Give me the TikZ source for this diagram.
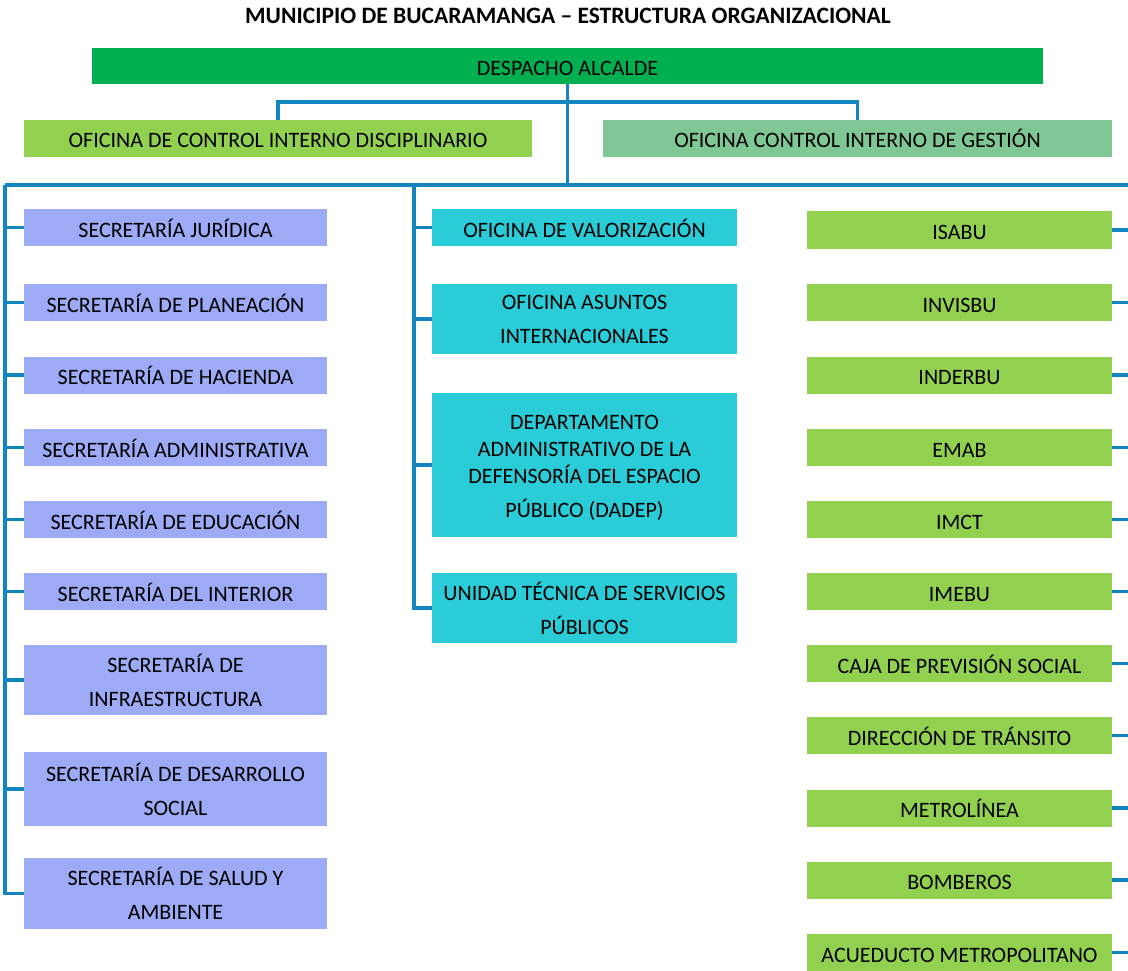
\documentclass[tikz,border=0pt]{standalone}
\usepackage{fontspec}
\setmainfont{Carlito}
\definecolor{despacho}{HTML}{00B050}
\definecolor{ofleft}{HTML}{92D050}
\definecolor{ofright}{HTML}{7FC794}
\definecolor{seccol}{HTML}{9DAAF5}
\definecolor{cyancol}{HTML}{29CCD7}
\definecolor{entcol}{HTML}{92D050}
\definecolor{linecol}{HTML}{1284BF}
\tikzset{
  box/.style={draw=none, inner sep=0pt, align=center, text=black,
    font=\fontsize{22}{34}\selectfont},
  oneline/.style={text height=19pt, text depth=0pt},
  secbox/.style={box, fill=seccol, minimum width=303pt},
  midbox/.style={box, fill=cyancol, minimum width=305pt},
  entbox/.style={box, oneline, fill=entcol, minimum width=305pt, minimum height=37pt},
  conn/.style={draw=linecol, line width=3.4pt}
}
\begin{document}
\begin{tikzpicture}[x=1pt,y=-1pt]
\useasboundingbox (0,0) rectangle (1128,971);
\node[font=\fontsize{23.5}{28}\selectfont\bfseries] (title) at (568,15.5) {MUNICIPIO DE BUCARAMANGA – ESTRUCTURA ORGANIZACIONAL};

\node[box, oneline, fill=despacho, minimum width=951pt, minimum height=36pt] (desp) at (567.5,66) {DESPACHO ALCALDE};
\node[box, oneline, fill=ofleft, minimum width=508pt, minimum height=37pt] (ol) at (278,138.5) {OFICINA DE CONTROL INTERNO DISCIPLINARIO};
\node[box, oneline, fill=ofright, minimum width=509pt, minimum height=37pt] (or) at (857.5,138.5) {OFICINA CONTROL INTERNO DE GESTIÓN};

% left column
\node[secbox, oneline, minimum height=37pt] (s1) at (175.5,227.5) {SECRETARÍA JURÍDICA};
\node[secbox, oneline, minimum height=37pt] (s2) at (175.5,302.5) {SECRETARÍA DE PLANEACIÓN};
\node[secbox, oneline, minimum height=37pt] (s3) at (175.5,375) {SECRETARÍA DE HACIENDA};
\node[secbox, oneline, minimum height=37pt] (s4) at (175.5,447.5) {SECRETARÍA ADMINISTRATIVA};
\node[secbox, oneline, minimum height=37pt] (s5) at (175.5,519.5) {SECRETARÍA DE EDUCACIÓN};
\node[secbox, oneline, minimum height=37pt] (s6) at (175.5,591.5) {SECRETARÍA DEL INTERIOR};
\node[secbox, minimum height=70pt] (s7) at (175.5,680) {SECRETARÍA DE\\INFRAESTRUCTURA};
\node[secbox, minimum height=74pt] (s8) at (175.5,789) {SECRETARÍA DE DESARROLLO\\SOCIAL};
\node[secbox, minimum height=71pt] (s9) at (175.5,893.5) {SECRETARÍA DE SALUD Y\\AMBIENTE};

% middle column
\node[midbox, oneline, minimum height=37pt] (m1) at (584.5,227.5) {OFICINA DE VALORIZACIÓN};
\node[midbox, minimum height=70pt] (m2) at (584.5,319) {OFICINA ASUNTOS\\INTERNACIONALES};
\node[midbox, minimum height=144pt] (m3) at (584.5,465) {\rule{0pt}{21pt}DEPARTAMENTO\\[-7pt]ADMINISTRATIVO DE LA\\[-7pt]DEFENSORÍA DEL ESPACIO\\PÚBLICO (DADEP)};
\node[midbox, minimum height=70pt] (m4) at (584.5,608) {UNIDAD TÉCNICA DE SERVICIOS\\PÚBLICOS};

% right column
\node[entbox] (r1) at (959.5,230) {ISABU};
\node[entbox] (r2) at (959.5,302.5) {INVISBU};
\node[entbox] (r3) at (959.5,375) {INDERBU};
\node[entbox] (r4) at (959.5,447.5) {EMAB};
\node[entbox] (r5) at (959.5,519.5) {IMCT};
\node[entbox] (r6) at (959.5,591.5) {IMEBU};
\node[entbox] (r7) at (959.5,663.5) {CAJA DE PREVISIÓN SOCIAL};
\node[entbox] (r8) at (959.5,735.5) {DIRECCIÓN DE TRÁNSITO};
\node[entbox] (r9) at (959.5,808) {METROLÍNEA};
\node[entbox] (r10) at (959.5,880) {BOMBEROS};
\node[entbox] (r11) at (959.5,952.5) {ACUEDUCTO METROPOLITANO};

% coordinates
\coordinate (oj) at (567.5,102);
\coordinate (bj) at (567.5,185);
\coordinate (busL) at (5,185);
\coordinate (busM) at (414,185);
\coordinate (busR) at (1128,185);

% connectors
\draw[conn] (desp.south) -- (bj);
\draw[conn] (ol.north) -- (ol.north |- oj) -- (or.north |- oj) -- (or.north);
\draw[conn] (busL) -- (busR);
\draw[conn] (busL) |- (s9.west);
\foreach \n in {s1,s2,s3,s4,s5,s6,s7,s8}
  \draw[conn] (\n.west) -- (\n.west -| busL);
\draw[conn] (busM) |- (m4.west);
\foreach \n in {m1,m2,m3}
  \draw[conn] (\n.west) -- (\n.west -| busM);
\foreach \n in {r1,r2,r3,r4,r5,r6,r7,r8,r9,r10,r11}
  \draw[conn] (\n.east) -- (\n.east -| busR);
\end{tikzpicture}
\end{document}
